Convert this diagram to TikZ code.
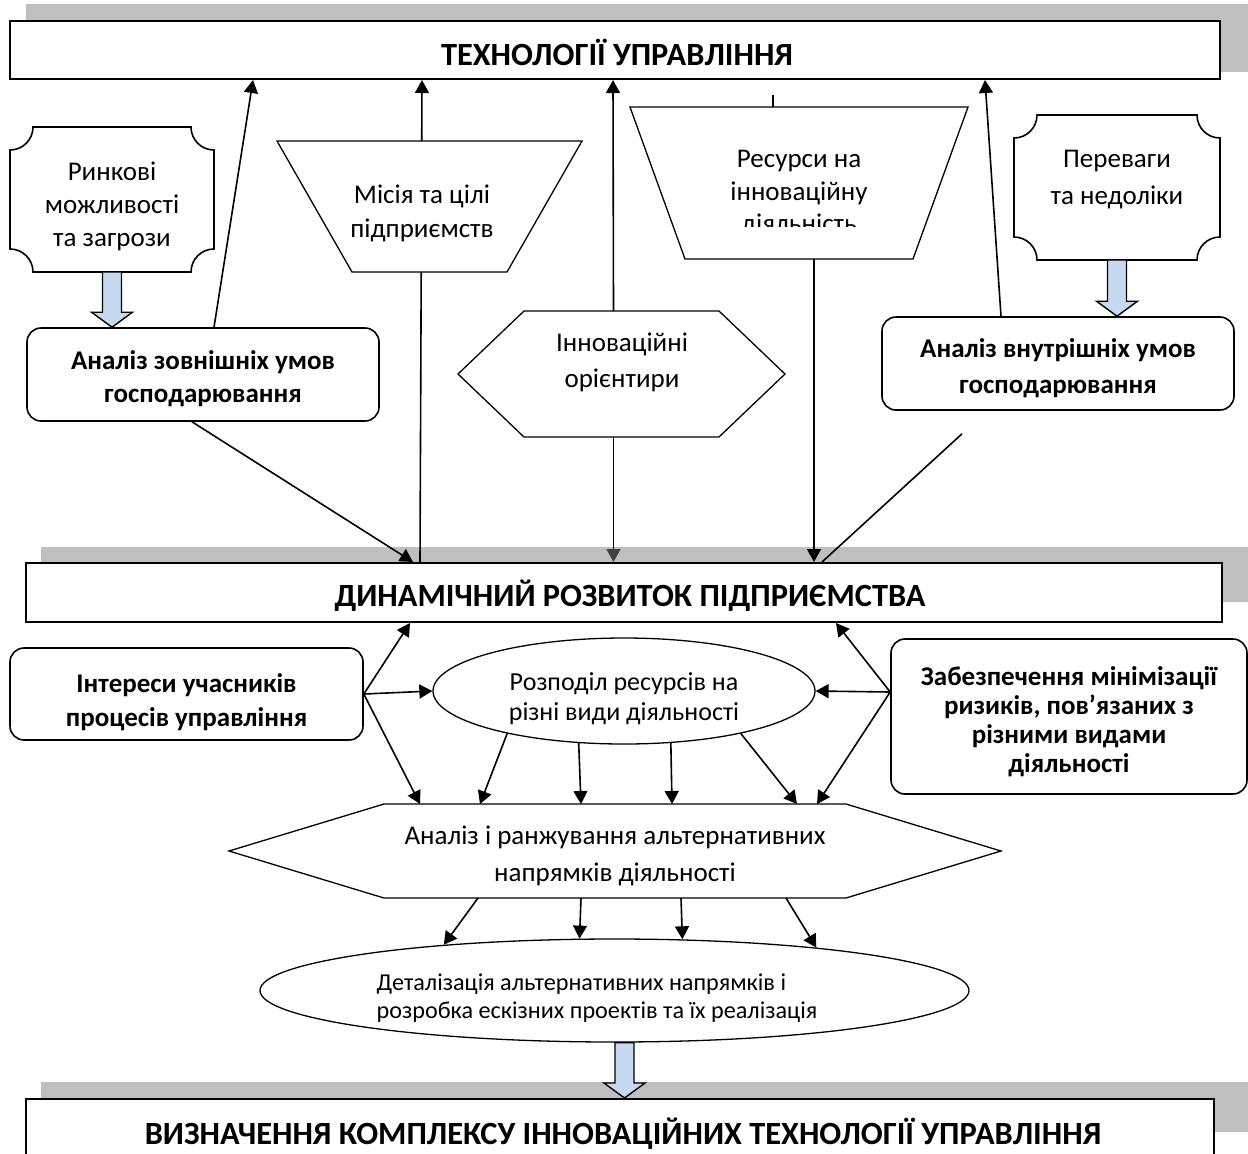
\documentclass[tikz,border=0pt]{standalone}
\usepackage{fontspec}
\setmainfont{Carlito}
\usetikzlibrary{arrows.meta,calc,shapes.geometric}

\definecolor{shadowGrey}{RGB}{191,191,191}
\definecolor{arrowBlue}{RGB}{198,217,241}
\definecolor{tipGrey}{RGB}{64,64,64}

\tikzset{
  header/.style={draw,line width=1pt,fill=white,inner sep=0pt},
  headtext/.style={inner sep=0pt,font=\fontsize{16.2}{19}\selectfont\bfseries},
  condbox/.style={draw,line width=0.8pt,rounded corners=7pt,fill=white,inner sep=0pt},
  boldtext/.style={inner sep=0pt,align=center,font=\fontsize{13.5}{16.5}\selectfont\bfseries},
  framebox/.style={inner sep=0pt,outer sep=0pt},
  plaintext/.style={inner sep=0pt,align=center,font=\fontsize{13.5}{16.5}\selectfont},
  shapeline/.style={draw,line width=0.65pt,fill=white},
  link/.style={line width=0.8pt,-{Triangle[length=6.5pt,width=7pt]}},
  fatarrow/.style={draw,line width=0.7pt,fill=arrowBlue},
}

% frame with hollow corners round a node
\newcommand{\plaqueframe}[1]{%
  \draw[line width=0.8pt] ($(#1.north west)+(23,0)$) -- ($(#1.north east)+(-23,0)$)
    arc[start angle=180,end angle=270,radius=11.5pt] -- ($(#1.south east)+(0,23)$)
    arc[start angle=90,end angle=180,radius=11.5pt] -- ($(#1.south west)+(23,0)$)
    arc[start angle=0,end angle=90,radius=11.5pt] -- ($(#1.north west)+(0,-23)$)
    arc[start angle=270,end angle=360,radius=11.5pt] -- cycle;}
% trapezium, wide side up
\newcommand{\trapframe}[2]{%
  \draw[shapeline] (#1.north west) -- (#1.north east) -- ($(#1.south east)+(-#2,0)$)
    -- ($(#1.south west)+(#2,0)$) -- cycle;}
% hexagon pointed left and right
\newcommand{\hexframe}[2]{%
  \draw[shapeline] (#1.west) -- ($(#1.north west)+(#2,0)$) -- ($(#1.north east)+(-#2,0)$)
    -- (#1.east) -- ($(#1.south east)+(-#2,0)$) -- ($(#1.south west)+(#2,0)$) -- cycle;}
% wide downward arrow
\newcommand{\blockarrow}[2]{%
  \draw[fatarrow] let \p1=(#1),\p2=(#2) in
    (\x1-4.75pt,\y1) -- (\x1-4.75pt,\y2+7.5pt) -- (\x1-10.25pt,\y2+7.5pt) -- (\x1,\y2)
    -- (\x1+10.25pt,\y2+7.5pt) -- (\x1+4.75pt,\y2+7.5pt) -- (\x1+4.75pt,\y1) -- cycle;}

\begin{document}
\begin{tikzpicture}[x=0.5pt,y=0.5pt]
  \useasboundingbox (0,0) rectangle (1248,-1153);
  % shadows of the three headers
  \fill[shadowGrey] (26,-4) rectangle (1248,-72);
  \fill[shadowGrey] (41,-547) rectangle (1248,-602);
  \fill[shadowGrey] (41,-1082) rectangle (1248,-1132);
  % headers
  \node[header,minimum width=605pt,minimum height=29pt] (tech) at (615,-50) {};
  \node[headtext] (techtext) at (617,-52) {ТЕХНОЛОГІЇ УПРАВЛІННЯ};
  \node[header,minimum width=598pt,minimum height=29.5pt] (dyn) at (624,-592.5) {};
  \node[headtext] (dyntext) at (630,-595.5) {ДИНАМІЧНИЙ РОЗВИТОК ПІДПРИЄМСТВА};
  \node[header,minimum width=594pt,minimum height=34pt] (def) at (620,-1133) {};
  \node[headtext] (deftext) at (623,-1134) {ВИЗНАЧЕННЯ КОМПЛЕКСУ ІННОВАЦІЙНИХ ТЕХНОЛОГІЇ УПРАВЛІННЯ};
  % line behind the mission shape
  \draw[link] ($(dyn.north)+(-204,0)$) -- ($(tech.south)+(-193,0)$);

  % upper part
  \node[framebox,minimum width=102pt,minimum height=72.5pt] (market) at (112,-199.5) {};
  \plaqueframe{market}
  \node[plaintext] (markettext) at (112,-206.5) {Ринкові\\можливості\\та загрози};
  \node[framebox,minimum width=103pt,minimum height=72.5pt] (prev) at (1117,-187.5) {};
  \plaqueframe{prev}
  \node[plaintext,font=\fontsize{13.5}{18.5}\selectfont] (prevtext) at (1117,-179.5) {Переваги\\та недоліки};
  \node[framebox,minimum width=152.5pt,minimum height=65.5pt] (mis) at (429.5,-206.5) {};
  \trapframe{mis}{75}
  \node[plaintext,font=\fontsize{13.5}{17}\selectfont] (mistext) at (422,-213) {Місія та цілі\\підприємств};
  \node[framebox,minimum width=169pt,minimum height=76pt] (res) at (799,-183) {};
  \trapframe{res}{55}
  \begin{scope}
    \clip (600,-100) rectangle (1000,-226);
    \node[plaintext,font=\fontsize{13.5}{16.25}\selectfont] (restext) at (799,-194) {Ресурси на\\інноваційну\\діяльність};
  \end{scope}
  \node[condbox,minimum width=176pt,minimum height=46.5pt] (ext) at (203,-374.5) {};
  \node[boldtext] (exttext) at (203,-378.5) {Аналіз зовнішніх умов\\господарювання};
  \node[condbox,minimum width=176pt,minimum height=46.5pt] (int) at (1058,-363.5) {};
  \node[boldtext,font=\fontsize{13.5}{18}\selectfont\bfseries] (inttext) at (1058,-368.5) {Аналіз внутрішніх умов\\господарювання};
  \node[framebox,minimum width=163.5pt,minimum height=63pt] (inn) at (621.5,-374) {};
  \hexframe{inn}{66}
  \node[plaintext,font=\fontsize{13.5}{18}\selectfont] (inntext) at (622,-362) {Інноваційні\\орієнтири};

  % lower part
  \node[condbox,minimum width=176.5pt,minimum height=46pt] (interests) at (186.5,-694) {};
  \node[boldtext,font=\fontsize{13.5}{17}\selectfont\bfseries] (intereststext) at (186.5,-702) {Інтереси учасників\\процесів управління};
  \node[condbox,minimum width=178pt,minimum height=77.5pt] (risk) at (1069,-716.5) {};
  \node[boldtext,font=\fontsize{13.5}{14.5}\selectfont\bfseries] (risktext) at (1069,-721.5)
       {Забезпечення мінімізації\\ризиків, пов’язаних з\\різними видами\\діяльності};
  \node[shapeline,ellipse,inner sep=0pt,minimum width=191pt,minimum height=53pt] (dist) at (624,-691) {};
  \node[plaintext,font=\fontsize{13}{15}\selectfont] (disttext) at (624,-699) {Розподіл ресурсів на\\різні види діяльності};
  \node[framebox,minimum width=386pt,minimum height=47pt] (rank) at (615,-851) {};
  \hexframe{rank}{155}
  \node[plaintext,font=\fontsize{13.5}{18.5}\selectfont] (ranktext) at (615,-855.5) {Аналіз і ранжування альтернативних\\напрямків діяльності};
  \node[shapeline,ellipse,inner sep=0pt,minimum width=354.5pt,minimum height=51.5pt] (det) at (614.5,-990.5) {};
  \node[plaintext,align=left,font=\fontsize{12.1}{14}\selectfont] (dettext) at (597,-998)
       {Деталізація альтернативних напрямків і\\розробка ескізних проектів та їх реалізація};

  % links to the top header
  \draw[link] ($(ext.north)+(11,0)$) -- ($(tech.south)+(-362,0)$);
  \draw[link] ($(inn.north)+(-8,0)$) -- ($(tech.south)+(-2,0)$);
  \draw[link] ($(int.north)+(-57,0)$) -- ($(tech.south)+(370,0)$);
  \draw[line width=0.8pt] ($(res.north)+(-26,0)$) -- ++(0,12);
  % links to the middle header
  \draw[link] ($(ext.south)+(-11,0)$) -- ($(dyn.north)+(-211,0)$);
  \draw[line width=0.8pt,-{Triangle[length=6.5pt,width=7pt,color=tipGrey]}] ($(inn.south)+(-8,0)$) -- ($(dyn.north)+(-10.5,0)$);
  \draw[link] ($(res.south)+(15,0)$) -- ($(dyn.north)+(190,0)$);
  \coordinate (gap) at ($(int.south)+(-96,-23)$);
  \draw[line width=0.8pt] ($(dyn.north)+(198,0)$) -- (gap);
  % block arrows
  \blockarrow{market.south}{market.south |- ext.north}
  \blockarrow{prev.south}{prev.south |- int.north}
  \coordinate (detout) at ($(det.south)+(10,0)$);
  \blockarrow{detout}{detout |- def.north}

  % links below the middle header
  \draw[link] (interests.east) -- ($(dyn.south)+(-214,0)$);
  \draw[link] (interests.east) -- (dist.west);
  \draw[link] (interests.east) -- ($(rank.north)+(-195,0)$);
  \coordinate (riskin) at ($(risk.west)+(0,24.5)$);
  \draw[link] (riskin) -- ($(dyn.south)+(212,0)$);
  \draw[link] (riskin) -- (dist.east);
  \draw[link] (riskin) -- ($(rank.north)+(202,0)$);
  \foreach \a/\dx in {200/-135, 229/-34, 312/57, 340/182}
    \draw[link] (dist.\a) -- ($(rank.north)+(\dx,0)$);
  \foreach \dx/\a in {-137/165, -34/124, 66/37, 171/12}
    \draw[link] ($(rank.south)+(\dx,0)$) -- (det.\a);
\end{tikzpicture}
\end{document}
